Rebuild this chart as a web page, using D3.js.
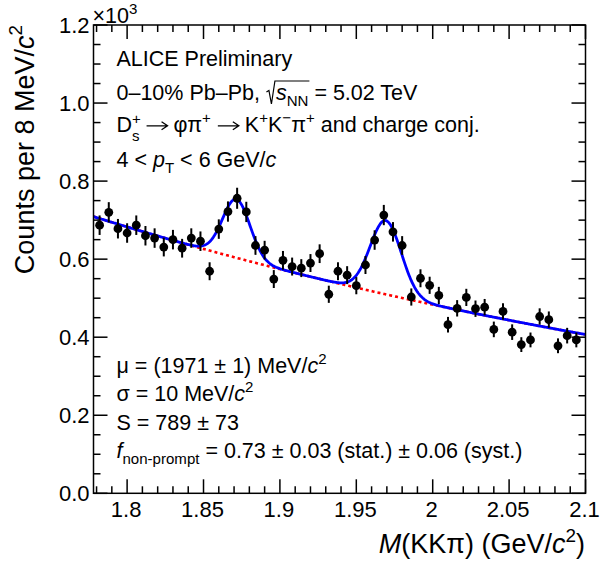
<!DOCTYPE html>
<html>
<head>
<meta charset="utf-8">
<script src="https://cdn.jsdelivr.net/npm/d3@7"></script>
<style>
  html, body { margin: 0; padding: 0; background: #fff; }
  svg { display: block; }
  text { font-family: "Liberation Sans", Arial, Helvetica, sans-serif; fill: #000; white-space: pre; }
</style>
</head>
<body>
<svg id="chart" width="601" height="574"></svg>
<script>
// ---------------- data ----------------
const massBins = [1.782,1.788,1.794,1.800,1.806,1.812,1.818,1.824,1.830,1.836,1.842,1.848,1.854,1.860,1.866,1.872,1.878,1.884,1.890,1.896,1.902,1.908,1.914,1.920,1.926,1.932,1.938,1.944,1.950,1.956,1.962,1.968,1.974,1.980,1.986,1.992,1.998,2.004,2.010,2.016,2.022,2.028,2.034,2.040,2.046,2.052,2.058,2.064,2.070,2.076,2.082,2.088,2.094];
const counts = [0.687,0.720,0.678,0.667,0.687,0.660,0.654,0.631,0.650,0.628,0.654,0.646,0.569,0.677,0.722,0.756,0.721,0.635,0.623,0.549,0.597,0.581,0.577,0.590,0.614,0.510,0.569,0.559,0.532,0.585,0.649,0.713,0.670,0.635,0.503,0.551,0.533,0.507,0.432,0.474,0.502,0.473,0.477,0.420,0.466,0.413,0.381,0.393,0.453,0.445,0.378,0.404,0.393];
const errors = [0.025,0.026,0.025,0.025,0.025,0.025,0.025,0.024,0.025,0.024,0.025,0.025,0.023,0.025,0.026,0.027,0.026,0.024,0.024,0.023,0.024,0.023,0.023,0.023,0.024,0.022,0.023,0.023,0.022,0.023,0.025,0.026,0.025,0.024,0.022,0.023,0.022,0.022,0.020,0.021,0.022,0.021,0.021,0.020,0.021,0.020,0.019,0.019,0.021,0.021,0.019,0.020,0.019];

// fit parameters (exponential background + two gaussians)
const bkgAmp = 0.709, bkgSlope = -1.724, bkgRef = 1.778;
const peakMeans = [1.8715, 1.9693];
const peakSigmas = [0.0090, 0.0102];
const peakAmps = [0.150, 0.189];

const xTickValues = [1.8, 1.85, 1.9, 1.95, 2.0, 2.05, 2.1];
const xTickLabels = ["1.8", "1.85", "1.9", "1.95", "2", "2.05", "2.1"];
const yTickValues = [0.0, 0.2, 0.4, 0.6, 0.8, 1.0, 1.2];
const yTickLabels = ["0.0", "0.2", "0.4", "0.6", "0.8", "1.0", "1.2"];

// ---------------- layout ----------------
const L = 93.5, R = 585.5, T = 25, B = 493.3;
const FS = 21.5, TFS = 22, TTL = 27;
const svg = d3.select("#chart");

const x = d3.scaleLinear().domain([1.778, 2.1]).range([L, R]);
const y = d3.scaleLinear().domain([0, 1.2]).range([B, T]);

svg.append("defs").append("clipPath").attr("id", "clip")
  .append("rect").attr("x", L).attr("y", T).attr("width", R - L).attr("height", B - T);

// rich text helper
function rich(parent, x0, y0, parts, size) {
  let cx = x0;
  parts.forEach(p => {
    if (p.gap) { cx += p.gap; return; }
    if (p.draw) { cx = p.draw(parent, cx, y0); return; }
    const fs = size * (p.s || 1);
    const t = parent.append("text")
      .attr("x", cx + (p.dx || 0))
      .attr("y", y0 + (p.dy || 0) * size / 21.5)
      .attr("font-size", fs)
      .attr("font-style", p.it ? "italic" : null)
      .text(p.t);
    const w = t.node().getComputedTextLength();
    if (!p.noadv) cx += w + (p.dx || 0);
  });
  return cx;
}
const SUB = { s: 0.7, dy: 6 };
const SUP = { s: 0.7, dy: -9 };

// arrow drawn as a path (long arrow like ROOT's #rightarrow)
const ARROW = {
  draw: (p, cx, y0) => {
    const a = cx + 7, b = a + 21, ym = y0 - 6.5;
    p.append("path")
      .attr("d", `M${a},${ym} H${b} M${b - 6},${ym - 4} L${b},${ym} L${b - 6},${ym + 4}`)
      .attr("fill", "none").attr("stroke", "#000").attr("stroke-width", 1.3);
    return b + 6;
  }
};
// D_s^+ : one text element with stacked sub/superscript
const DSPLUS = {
  draw: (p, cx, y0) => {
    const t = p.append("text").attr("x", cx).attr("y", y0).attr("font-size", FS);
    t.append("tspan").text("D");
    t.append("tspan").attr("font-size", FS * 0.7).attr("dy", -8).text("+");
    const wP = t.node().getSubStringLength(1, 1);
    t.append("tspan").attr("font-size", FS * 0.7).attr("dx", -wP).attr("dy", 17).text("s");
    return cx + t.node().getComputedTextLength() - wP;
  }
};

// ---------------- curves ----------------
const bkg = m => bkgAmp * Math.exp(bkgSlope * (m - bkgRef));
const total = m => bkg(m) + peakAmps.reduce((s, a, k) =>
  s + a * Math.exp(-0.5 * Math.pow((m - peakMeans[k]) / peakSigmas[k], 2)), 0);
const grid = d3.range(1.778, 2.1001, 0.0005);
const line = f => d3.line().x(d => x(d)).y(d => y(f(d)))(grid);

const plot = svg.append("g").attr("clip-path", "url(#clip)");
plot.append("path").attr("d", line(bkg)).attr("fill", "none")
  .attr("stroke", "#ff0000").attr("stroke-width", 2.6).attr("stroke-dasharray", "3,3");
plot.append("path").attr("d", line(total)).attr("fill", "none")
  .attr("stroke", "#0000ff").attr("stroke-width", 2.8);

// ---------------- data points ----------------
const pts = svg.append("g");
massBins.forEach((m, i) => {
  pts.append("line").attr("x1", x(m)).attr("x2", x(m))
    .attr("y1", y(counts[i] - errors[i])).attr("y2", y(counts[i] + errors[i]))
    .attr("stroke", "#000").attr("stroke-width", 2);
  pts.append("circle").attr("cx", x(m)).attr("cy", y(counts[i])).attr("r", 4.4).attr("fill", "#000");
});

// ---------------- frame and ticks ----------------
const ax = svg.append("g").attr("stroke", "#000").attr("stroke-width", 1.5);
ax.append("rect").attr("x", L).attr("y", T).attr("width", R - L).attr("height", B - T).attr("fill", "none");
const xMinor = d3.range(1.78, 2.1001, 0.01);
xMinor.forEach(v => {
  const major = xTickValues.some(t => Math.abs(t - v) < 1e-6);
  const len = major ? 14 : 7;
  ax.append("line").attr("x1", x(v)).attr("x2", x(v)).attr("y1", B).attr("y2", B - len);
  ax.append("line").attr("x1", x(v)).attr("x2", x(v)).attr("y1", T).attr("y2", T + len);
});
const yMinor = d3.range(0, 1.2001, 0.05);
yMinor.forEach(v => {
  const major = yTickValues.some(t => Math.abs(t - v) < 1e-6);
  const len = major ? 14 : 7;
  ax.append("line").attr("x1", L).attr("x2", L + len).attr("y1", y(v)).attr("y2", y(v));
  ax.append("line").attr("x1", R).attr("x2", R - len).attr("y1", y(v)).attr("y2", y(v));
});

// tick labels
xTickValues.forEach((v, i) => {
  svg.append("text").attr("x", x(v) - 1).attr("y", 516.7).attr("text-anchor", "middle")
    .attr("font-size", TFS).text(xTickLabels[i]);
});
yTickValues.forEach((v, i) => {
  svg.append("text").attr("x", 89.5).attr("y", y(v) + 8).attr("text-anchor", "end")
    .attr("font-size", TFS).text(yTickLabels[i]);
});

// exponent
rich(svg, 92.5, 22.7, [{ t: "×10" }, { t: "3", s: 0.7, dy: -9 }], FS);

// axis titles
{
  const g = svg.append("g");
  const w = rich(g, 0, 553, [{ t: "M", it: true }, { t: "(KKπ) (GeV/" }, { t: "c", it: true },
    Object.assign({ t: "2" }, SUP), { t: ")" }], TTL);
  g.attr("transform", `translate(${585 - w},0)`);
}
{
  const outer = svg.append("g").attr("transform", "translate(33.5,25) rotate(-90)");
  const inner = outer.append("g");
  const w = rich(inner, 0, 0, [{ t: "Counts per 8 MeV/" }, { t: "c", it: true },
    Object.assign({ t: "2" }, SUP)], TTL);
  inner.attr("transform", `translate(${-w},0)`);
}

// ---------------- annotations ----------------
const TX = 116.5;
const ann = svg.append("g");
rich(ann, TX, 66, [{ t: "ALICE Preliminary" }], FS);

let sqrtStart = 0;
rich(ann, TX, 100, [
  { t: "0–10% Pb–Pb, " },
  { draw: (p, cx, y0) => { sqrtStart = cx; return cx + 10; } },
  { t: "s", it: true },
  Object.assign({ t: "NN" }, SUB),
  { draw: (p, cx, y0) => {
      p.append("path")
        .attr("d", `M${sqrtStart + 0.5},${y0 - 8} L${sqrtStart + 3},${y0 - 9.5} L${sqrtStart + 5.5},${y0 + 4} L${sqrtStart + 9},${y0 - 19} H${cx + 1}`)
        .attr("fill", "none").attr("stroke", "#000").attr("stroke-width", 1.2);
      return cx; } },
  { t: " = 5.02 TeV" }
], FS);

rich(ann, TX, 132.3, [
  DSPLUS,
  ARROW,
  { t: "φπ" },
  Object.assign({ t: "+" }, SUP),
  ARROW,
  { t: "K" },
  Object.assign({ t: "+" }, SUP),
  { t: "K" },
  Object.assign({ t: "−" }, SUP),
  { t: "π" },
  Object.assign({ t: "+" }, SUP),
  { t: " and charge conj." }
], FS);

rich(ann, TX, 166.7, [
  { t: "4 < " }, { t: "p", it: true }, Object.assign({ t: "T" }, SUB), { t: " < 6 GeV/" }, { t: "c", it: true }
], FS);

rich(ann, TX, 373.3, [
  { t: "μ = (1971 ± 1) MeV/" }, { t: "c", it: true }, Object.assign({ t: "2" }, SUP)
], FS);
rich(ann, TX, 401, [
  { t: "σ = 10 MeV/" }, { t: "c", it: true }, Object.assign({ t: "2" }, SUP)
], FS);
rich(ann, TX, 429.5, [{ t: "S = 789 ± 73" }], FS);
rich(ann, TX, 458.3, [
  { t: "f", it: true }, Object.assign({ t: "non-prompt" }, SUB), { t: " = 0.73 ± 0.03 (stat.) ± 0.06 (syst.)" }
], FS);
</script>
</body>
</html>
